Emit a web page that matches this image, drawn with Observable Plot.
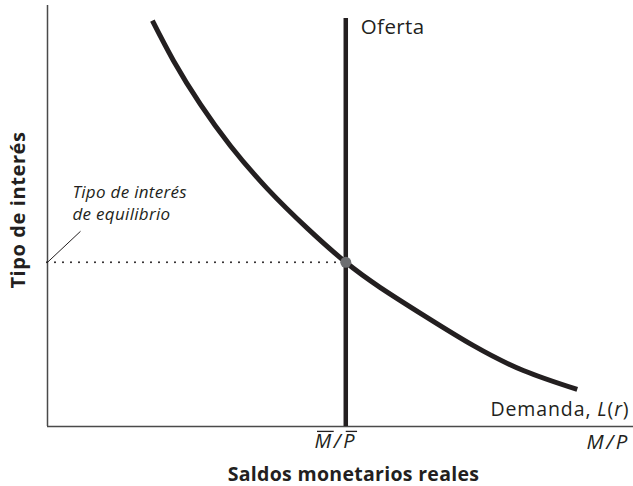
<!DOCTYPE html>
<html>
<head>
<meta charset="utf-8">
<script src="https://cdn.jsdelivr.net/npm/d3@7"></script>
<script src="https://cdn.jsdelivr.net/npm/@observablehq/plot@0.6"></script>
<style>
  html, body { margin: 0; padding: 0; background: #fff; overflow: hidden; }
  #chart { width: 633px; height: 486px; overflow: hidden; }
</style>
</head>
<body>
<div id="chart"></div>
<script>
const demandX = [17.9, 21.5, 26.1, 31.2, 37.5, 44.4, 50.9, 56.8, 64.2, 72.7, 81.2, 90.4];
const demandY = [96.4, 86.9, 76.5, 66.7, 56.5, 47.0, 39.0, 33.0, 26.4, 19.2, 13.3, 8.8];
// Vertical supply of real balances
const supplyX = 50.9;
const supplyTop = 96.9;
// Equilibrium
const eqX = 50.9;
const eqY = 39.0;
// Texts
const supplyLabel = "Oferta";
const demandLabel = "Demanda, L(r)";
const eqLabel = "Tipo de interés\nde equilibrio";
const tickLabels = ["M\u0304/P\u0304", "M/P"];
const xTitle = "Saldos monetarios reales";
const yTitle = "Tipo de interés";

const demand = demandX.map((x, i) => ({x, y: demandY[i]}));
const ink = "#231f20";

const chart = Plot.plot({
  width: 633,
  height: 486,
  marginLeft: 47,
  marginRight: 0,
  marginTop: 5,
  marginBottom: 60,
  x: {domain: [0, 100], axis: null},
  y: {domain: [0, 100], axis: null},
  style: {fontFamily: "'Open Sans', sans-serif", fontSize: "18px", color: ink, background: "#fff", overflow: "visible"},
  marks: [
    // axes
    Plot.ruleX([0], {stroke: "#4a4a4a", strokeWidth: 1.5}),
    Plot.ruleY([0], {stroke: "#4a4a4a", strokeWidth: 1.5}),
    // dotted equilibrium guide
    Plot.ruleY([eqY], {x1: 0, x2: eqX, stroke: ink, strokeWidth: 2, strokeDasharray: "0 8", strokeLinecap: "round"}),
    // leader line for equilibrium label
    Plot.link([{x: 0, y: eqY}], {x1: "x", y1: "y", x2: "x", y2: "y", stroke: ink, strokeWidth: 1}),
    // supply
    Plot.ruleX([supplyX], {y1: 0, y2: supplyTop, stroke: ink, strokeWidth: 4.5}),
    // demand
    Plot.line(demand, {x: "x", y: "y", curve: "natural", stroke: ink, strokeWidth: 5, strokeLinecap: "butt"}),
    // equilibrium point
    Plot.dot([{x: eqX, y: eqY}], {x: "x", y: "y", r: 5.5, fill: "#6d6e71", stroke: "none"}),
    // labels
    Plot.text([supplyLabel], {x: supplyX, y: supplyTop, text: d => d, textAnchor: "start", lineAnchor: "bottom", dx: 15, dy: 15, fontSize: 20.5, fill: ink}),
    Plot.text([demandLabel], {x: 100, y: 0, text: d => d, textAnchor: "end", lineAnchor: "bottom", dx: -4, dy: -11, fontSize: 19.5, fill: ink}),
    Plot.text([eqLabel], {x: 0, y: eqY, text: d => d, textAnchor: "start", lineAnchor: "bottom", lineHeight: 1.3, dx: 25, dy: -42, fontSize: 17, fontStyle: "italic", fill: ink}),
    Plot.text([tickLabels[0]], {x: supplyX, y: 0, text: d => d, textAnchor: "middle", lineAnchor: "bottom", dx: -10, dy: 21, fontSize: 20, fontStyle: "italic", fill: ink}),
    Plot.text([tickLabels[1]], {x: 100, y: 0, text: d => d, textAnchor: "start", lineAnchor: "bottom", dx: -47, dy: 22, fontSize: 20.5, fontStyle: "italic", fill: ink}),
    Plot.text([xTitle], {frameAnchor: "bottom", text: d => d, textAnchor: "middle", lineAnchor: "bottom", dx: 13, dy: 54, fontSize: 19.5, fontWeight: "bold", fill: ink}),
    Plot.text([yTitle], {frameAnchor: "left", text: d => d, rotate: -90, textAnchor: "middle", lineAnchor: "middle", dx: -29, dy: -6, fontSize: 20, fontWeight: "bold", fill: ink})
  ]
});

document.getElementById("chart").appendChild(chart);
const svg = d3.select(chart);

// leader line: from the equilibrium level on the y-axis, up-right toward the label
svg.selectAll("path").filter(function () {
  const m = (this.getAttribute("d") || "").match(/-?[\d.]+/g);
  return m && m.length === 4 && m[0] === m[2] && m[1] === m[3];
}).attr("d", function () {
  const m = this.getAttribute("d").match(/-?[\d.]+/g).map(Number);
  return `M${m[0]},${m[1]}L${m[0] + 33},${m[1] - 31}`;
});

// letter spacing to approximate the reference typeface widths
const spacing = new Map([
  [supplyLabel, 0.4], [demandLabel, 0.9], [xTitle, 0.3], [yTitle, 0.6],
  [eqLabel.replace("\n", ""), 0.3], [tickLabels[1], 2.5]
]);
svg.selectAll("text").each(function () {
  const s = spacing.get(this.textContent);
  if (s != null) this.setAttribute("letter-spacing", s);
});

// overlines over M and P in the equilibrium tick label
svg.selectAll("text").filter(function () { return this.textContent.includes("\u0304"); }).each(function () {
  const ls = 2.5;
  this.setAttribute("letter-spacing", ls);
  this.textContent = "M/P";
  const fs = parseFloat(getComputedStyle(this).fontSize);
  const tr = this.getAttribute("transform");
  const e0 = this.getExtentOfChar(0);
  const baseline = e0.y + 1.069 * fs;
  const yLine = baseline - 0.714 * fs - 2.2;
  [0, 2].forEach(i => {
    const e = this.getExtentOfChar(i);
    const line = document.createElementNS("http://www.w3.org/2000/svg", "line");
    line.setAttribute("x1", e.x + 2.5);
    line.setAttribute("x2", e.x + e.width - ls + 2.5);
    line.setAttribute("y1", yLine);
    line.setAttribute("y2", yLine);
    line.setAttribute("stroke", ink);
    line.setAttribute("stroke-width", 1.3);
    if (tr) line.setAttribute("transform", tr);
    this.parentNode.appendChild(line);
  });
});
// italic L and r in demand label
svg.selectAll("text").filter(function () { return this.textContent === demandLabel; }).each(function () {
  const t = d3.select(this);
  t.text(null);
  t.append("tspan").text("Demanda, ");
  t.append("tspan").attr("font-style", "italic").text("L");
  t.append("tspan").text("(");
  t.append("tspan").attr("font-style", "italic").text("r");
  t.append("tspan").text(")");
});
</script>
</body>
</html>
